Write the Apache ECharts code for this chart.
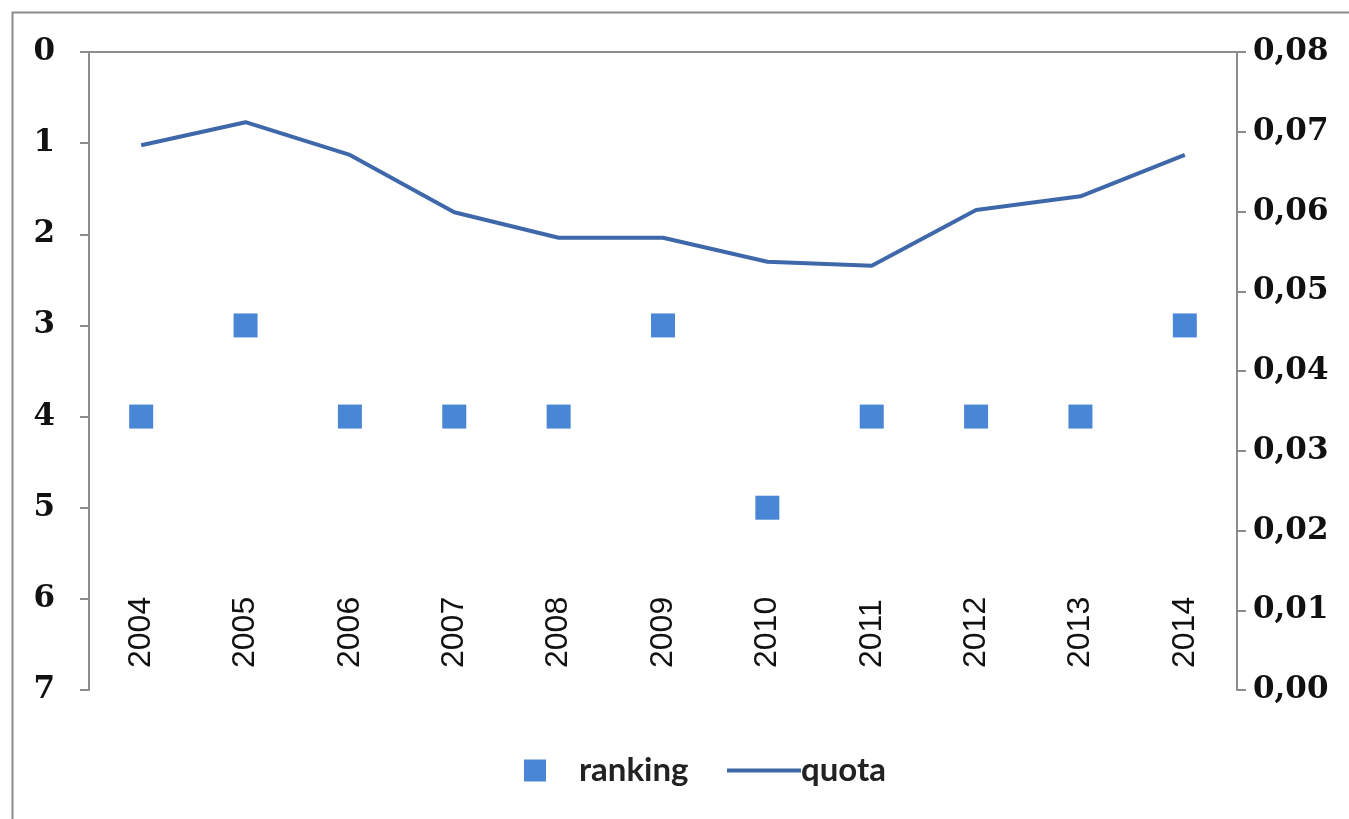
<!DOCTYPE html>
<html>
<head>
<meta charset="utf-8">
<script src="https://cdn.jsdelivr.net/npm/echarts@6/dist/echarts.min.js"></script>
<style>
  html, body { margin: 0; padding: 0; background: #fff; }
  #chart { width: 1349px; height: 819px; }
</style>
</head>
<body>
<div id="chart"></div>
<script>
let years = ['2004','2005','2006','2007','2008','2009','2010','2011','2012','2013','2014'];
let ranking = [4, 3, 4, 4, 4, 3, 5, 4, 4, 4, 3];
let quota = [0.0683, 0.0712, 0.0671, 0.0599, 0.0567, 0.0567, 0.0537, 0.0532, 0.0602, 0.0619, 0.0671];

let numFont = { fontFamily: 'DejaVu Serif', fontWeight: 'bold', fontSize: 31, color: '#111' };
let legendFont = { fontFamily: 'Lato', fontWeight: 'bold', fontSize: 33, color: '#222' };

window.onload = function() {
    let myChart = echarts.init(document.getElementById('chart'));

    let option = {
        animation: false,
        backgroundColor: '#fff',
        graphic: [{
            type: 'rect',
            shape: { x: 12.5, y: 12.5, width: 1400, height: 900 },
            style: { fill: 'none', stroke: '#8a8a8a', lineWidth: 2 }
        }],
        grid: { left: 89, right: 112, top: 52, bottom: 129 },
        legend: [{
            data: [{ name: 'ranking', icon: 'rect' }],
            left: 519, top: 749,
            itemWidth: 22, itemHeight: 22, itemGap: 0,
            textStyle: Object.assign({ padding: [0, 0, 0, 28] }, legendFont)
        }, {
            data: [{ name: 'quota', icon: 'rect' }],
            left: 722, top: 749,
            itemWidth: 74, itemHeight: 4,
            textStyle: Object.assign({ padding: [0, 0, 0, -5] }, legendFont)
        }],
        xAxis: {
            type: 'category',
            data: years,
            axisLine: { lineStyle: { color: '#8c8c8c', width: 2 } },
            axisTick: { inside: true, length: 9, lineStyle: { color: '#8c8c8c', width: 2 } },
            axisLabel: {
                inside: true, rotate: 90, margin: 22,
                fontFamily: 'Liberation Sans', fontSize: 32, color: '#111'
            }
        },
        yAxis: [{
            type: 'value',
            inverse: true,
            min: 0, max: 7, interval: 1,
            splitLine: { show: false },
            axisLine: { show: true, lineStyle: { color: '#8c8c8c', width: 2 } },
            axisTick: { show: true, length: 9, lineStyle: { color: '#8c8c8c', width: 2 } },
            axisLabel: Object.assign({ margin: 34 }, numFont)
        }, {
            type: 'value',
            position: 'right',
            min: 0, max: 0.08, interval: 0.01,
            splitLine: { show: false },
            axisLine: { show: true, lineStyle: { color: '#8c8c8c', width: 2 } },
            axisTick: { show: true, length: 9, lineStyle: { color: '#8c8c8c', width: 2 } },
            axisLabel: Object.assign({
                margin: 16,
                formatter: function(v) { return v.toFixed(2).replace('.', ','); }
            }, numFont)
        }],
        series: [{
            name: 'ranking',
            type: 'scatter',
            yAxisIndex: 0,
            data: ranking,
            symbol: 'rect',
            symbolSize: 24,
            itemStyle: { color: '#4A86D6', opacity: 1 }
        }, {
            name: 'quota',
            type: 'line',
            yAxisIndex: 1,
            data: quota,
            symbol: 'none',
            lineStyle: { color: '#3F68AA', width: 4 },
            itemStyle: { color: '#3F68AA' }
        }]
    };
    myChart.setOption(option);
};
</script>
</body>
</html>
